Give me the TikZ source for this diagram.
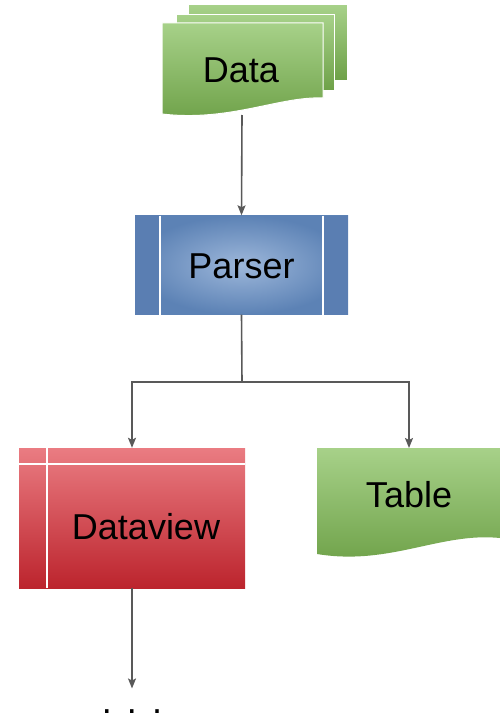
\documentclass[tikz,border=0pt]{standalone}
\usepackage{fontspec}
\setmainfont{Liberation Sans}
\usetikzlibrary{arrows.meta}
\definecolor{gtop}{HTML}{A7D189}
\definecolor{gbot}{HTML}{6EA148}
\definecolor{bin}{HTML}{9DB7DA}
\definecolor{bout}{HTML}{5C82B5}
\definecolor{bside}{HTML}{5A7EB2}
\definecolor{rtop}{HTML}{EA7C82}
\definecolor{rbot}{HTML}{BC242D}
\definecolor{wire}{HTML}{595959}
\tikzset{
  sheet/.style={draw=white, line width=1pt, top color=gtop, bottom color=gbot},
  lbl/.style={font=\fontsize{36}{42}\selectfont, text=black, inner sep=0pt},
  conn/.style={draw=wire, line width=1.6pt, -{Stealth[length=10pt,width=8pt,inset=2pt]}},
  wireline/.style={draw=wire, line width=1.6pt},
  sep/.style={draw=white, line width=1.3pt}
}
\begin{document}
\begin{tikzpicture}[x=1pt,y=-1pt]
\useasboundingbox (0,0) rectangle (500,717);
% Data stack
\path[sheet] (188,5) rectangle (347,80);
\path[sheet] (176,15) rectangle (334,90);
\path[sheet] (162,23) -- (323,23) -- (323,98)
  .. controls (280,96) and (230,122) .. (162,114) -- cycle;
\node[lbl] (data) at (241,70) {Data};
\coordinate (dataout) at (242,115);
% Parser
\node[minimum width=213pt, minimum height=99pt, inner sep=0pt,
  inner color=bin, outer color=bout] (parser) at (241.5,265) {};
\fill[bside] (parser.north west) rectangle (160,314.5);
\fill[bside] (323,215.5) rectangle (parser.south east);
\draw[sep] (160,215.5) -- (160,314.5);
\draw[sep] (323,215.5) -- (323,314.5);
\node[lbl] (ptext) at (241.5,266) {Parser};
% Dataview
\node[minimum width=226pt, minimum height=140pt, inner sep=0pt,
  top color=rtop, bottom color=rbot] (dv) at (132,518) {};
\draw[sep] (47,448) -- (47,588);
\draw[sep] (19,464) -- (245,464);
\node[lbl] (dvtext) at (146,527) {Dataview};
% Table
\path[top color=gtop, bottom color=gbot] (317,448) -- (500,448) -- (500,538)
  .. controls (440,532) and (390,566) .. (317,554) -- cycle;
\node[lbl] (table) at (409,495) {Table};
\coordinate (tabletop) at (409,448);
% dots
\node[lbl, anchor=base] (more) at (132,713.5) {.\hspace{15pt}.\hspace{15pt}.};
% connectors
\draw[conn] (dataout) -- (parser.north);
\coordinate (split) at (242,382);
\draw[wireline] (parser.south) -- (split);
\draw[conn] (split) -| (dv.north);
\draw[conn] (split) -| (tabletop);
\draw[conn, shorten >=21pt] (dv.south) -- (more.north);
\end{tikzpicture}
\end{document}
